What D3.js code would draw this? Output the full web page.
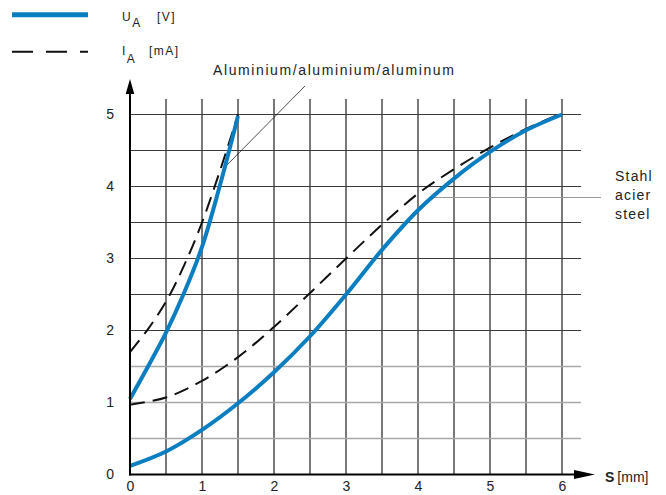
<!DOCTYPE html>
<html>
<head>
<meta charset="utf-8">
<script src="https://cdn.jsdelivr.net/npm/d3@7"></script>
<style>
  html, body { margin: 0; padding: 0; background: #fff; }
  svg { display: block; font-family: "Liberation Sans", Arial, Helvetica, sans-serif; }
</style>
</head>
<body>
<svg id="chart" width="666" height="495"></svg>
<script>
// ticks
const sTicks = [0, 1, 2, 3, 4, 5, 6];
const uTicks = [0, 1, 2, 3, 4, 5];

// aluminium
const sAl = [0, 0.25, 0.5, 0.75, 1, 1.25, 1.5];
const uAl = [1.05, 1.5, 1.97, 2.52, 3.16, 4.02, 4.98];
const iAl = [1.7, 2.02, 2.4, 2.9, 3.5, 4.22, 5.0];

// steel
const sSt = [0, 0.5, 1, 1.5, 2, 2.5, 3, 3.5, 4, 4.5, 5, 5.5, 6];
const uSt = [0.12, 0.32, 0.62, 0.99, 1.42, 1.92, 2.5, 3.12, 3.67, 4.11, 4.48, 4.78, 5.0];
const iSt = [0.97, 1.07, 1.3, 1.63, 2.05, 2.52, 3.0, 3.47, 3.9, 4.24, 4.54, 4.8, 5.02];

const blue = "#0b7dc1";
const svg = d3.select("#chart");

const x = d3.scaleLinear().domain([0, 6]).range([130, 562]);
const y = d3.scaleLinear().domain([0, 5]).range([474.5, 114.5]);

// grid - vertical lines dark, low horizontal lines lighter
const vGrid = d3.range(0.5, 6.01, 0.5);
const hGrid = d3.range(0.5, 5.01, 0.5);

svg.append("g").selectAll("line").data(vGrid).join("line")
    .attr("x1", d => x(d)).attr("x2", d => x(d))
    .attr("y1", 99).attr("y2", y(0))
    .attr("stroke", "#1e1e1e").attr("stroke-width", 1.2);

svg.append("g").selectAll("line").data(hGrid).join("line")
    .attr("x1", x(0)).attr("x2", 581)
    .attr("y1", d => y(d)).attr("y2", d => y(d))
    .attr("stroke", d => d < 1.9 ? "#a8a8a8" : "#3a3a3a")
    .attr("stroke-width", d => d < 1.9 ? 1.5 : 1.2);

// leader lines
svg.append("line")
    .attr("x1", 305).attr("y1", 86).attr("x2", 227).attr("y2", 165)
    .attr("stroke", "#222").attr("stroke-width", 0.8);
svg.append("line")
    .attr("x1", 432).attr("y1", 197.5).attr("x2", 601).attr("y2", 197.5)
    .attr("stroke", "#999").attr("stroke-width", 1.2);

// curves
const line = d3.line().x(d => x(d[0])).y(d => y(d[1])).curve(d3.curveCatmullRom.alpha(0.5));

function drawCurve(xs, ys, dashed) {
    svg.append("path")
        .datum(xs.map((s, i) => [s, ys[i]]))
        .attr("d", line)
        .attr("fill", "none")
        .attr("stroke", dashed ? "#111" : blue)
        .attr("stroke-width", dashed ? 2 : 4)
        .attr("stroke-dasharray", dashed ? "15,8" : null);
}

drawCurve(sSt, iSt, true);
drawCurve(sSt, uSt, false);
drawCurve(sAl, iAl, true);
drawCurve(sAl, uAl, false);

// axes lines with arrows
svg.append("line")
    .attr("x1", x(0)).attr("y1", y(0) + 1).attr("x2", x(0)).attr("y2", 92)
    .attr("stroke", "#000").attr("stroke-width", 2);
svg.append("path")
    .attr("d", `M${x(0) - 4.3},94 L${x(0)},79 L${x(0) + 4.3},94 Z`)
    .attr("fill", "#000");

svg.append("line")
    .attr("x1", x(0) - 1).attr("y1", y(0)).attr("x2", 577).attr("y2", y(0))
    .attr("stroke", "#000").attr("stroke-width", 2);
svg.append("path")
    .attr("d", `M574,${y(0) - 4.5} L595,${y(0)} L574,${y(0) + 4.5} Z`)
    .attr("fill", "#000");

// tick labels
const xAxis = svg.append("g")
    .attr("transform", `translate(0,${y(0)})`)
    .call(d3.axisBottom(x).tickValues(sTicks).tickSize(0).tickPadding(7).tickFormat(d3.format("d")));
const yAxis = svg.append("g")
    .attr("transform", `translate(${x(0)},0)`)
    .call(d3.axisLeft(y).tickValues(uTicks).tickSize(0).tickPadding(16).tickFormat(d3.format("d")));

[xAxis, yAxis].forEach(g => {
    g.select(".domain").remove();
    g.selectAll("text")
        .attr("font-family", "'Liberation Sans', Arial, sans-serif")
        .attr("font-size", 14)
        .attr("fill", "#222");
});

// axis title
const sLabel = svg.append("text")
    .attr("x", 605).attr("y", 481.5)
    .attr("font-size", 14).attr("fill", "#222");
sLabel.append("tspan").attr("font-weight", "bold").text("S");
sLabel.append("tspan").attr("dx", 3).text("[mm]");

// annotations
svg.append("text")
    .attr("x", 213).attr("y", 75)
    .attr("font-size", 14).attr("letter-spacing", 1.6).attr("fill", "#222")
    .text("Aluminium/aluminium/aluminum");

const steelLabel = ["Stahl", "acier", "steel"];
svg.append("g").selectAll("text").data(steelLabel).join("text")
    .attr("x", 615).attr("y", (d, i) => 181 + i * 19)
    .attr("font-size", 14).attr("letter-spacing", 1.2).attr("fill", "#222")
    .text(d => d);

// legend
svg.append("line")
    .attr("x1", 12).attr("x2", 88).attr("y1", 14.8).attr("y2", 14.8)
    .attr("stroke", blue).attr("stroke-width", 5);
svg.append("line")
    .attr("x1", 12).attr("x2", 88).attr("y1", 51.7).attr("y2", 51.7)
    .attr("stroke", "#111").attr("stroke-width", 2)
    .attr("stroke-dasharray", "21,13");

const legU = svg.append("text").attr("x", 122).attr("y", 21)
    .attr("font-size", 12).attr("fill", "#222").attr("letter-spacing", 1.5);
legU.append("tspan").text("U");
legU.append("tspan").attr("dy", 6).text("A");
legU.append("tspan").attr("x", 157).attr("dy", -6).text("[V]");

const legI = svg.append("text").attr("x", 122).attr("y", 55)
    .attr("font-size", 12).attr("fill", "#222").attr("letter-spacing", 1.5);
legI.append("tspan").text("I");
legI.append("tspan").attr("dy", 8).text("A");
legI.append("tspan").attr("x", 149).attr("dy", -8).text("[mA]");
</script>
</body>
</html>
